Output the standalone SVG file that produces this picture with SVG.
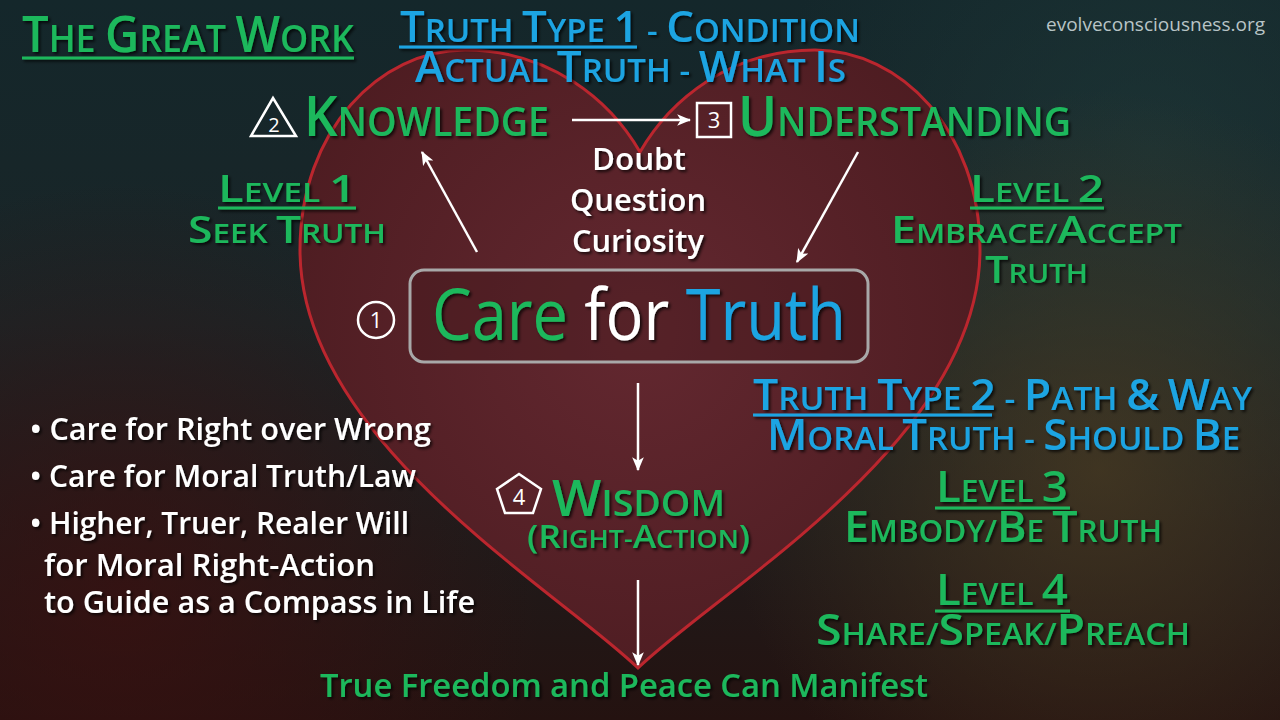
<svg xmlns="http://www.w3.org/2000/svg" width="1280" height="720" viewBox="0 0 1280 720">
<defs>
<linearGradient id="bg" x1="0" y1="0" x2="0" y2="1">
<stop offset="0" stop-color="#14272b"/>
<stop offset="0.45" stop-color="#1a2527"/>
<stop offset="1" stop-color="#241210"/>
</linearGradient>
<radialGradient id="glowR" cx="1100" cy="470" r="380" gradientUnits="userSpaceOnUse">
<stop offset="0" stop-color="#4a3b22" stop-opacity="0.75"/>
<stop offset="1" stop-color="#4a3b22" stop-opacity="0"/>
</radialGradient>
<radialGradient id="glowL" cx="120" cy="600" r="420" gradientUnits="userSpaceOnUse">
<stop offset="0" stop-color="#3c1010" stop-opacity="0.7"/>
<stop offset="1" stop-color="#3c1010" stop-opacity="0"/>
</radialGradient>
<radialGradient id="glowT" cx="1150" cy="150" r="380" gradientUnits="userSpaceOnUse">
<stop offset="0" stop-color="#1f3a3a" stop-opacity="0.6"/>
<stop offset="1" stop-color="#1f3a3a" stop-opacity="0"/>
</radialGradient>
<radialGradient id="heartFill" cx="640" cy="330" r="380" gradientUnits="userSpaceOnUse">
<stop offset="0" stop-color="#632830"/>
<stop offset="1" stop-color="#4d1c21"/>
</radialGradient>
<filter id="sh" x="-10%" y="-20%" width="120%" height="150%">
<feDropShadow dx="2" dy="2" stdDeviation="1.5" flood-color="#000" flood-opacity="0.75"/>
</filter>
<marker id="ah" viewBox="0 0 12 10" refX="11" refY="5" markerWidth="14" markerHeight="12" markerUnits="userSpaceOnUse" orient="auto">
<path d="M0,0 L12,5 L0,10 L3,5 Z" fill="#ffffff"/>
</marker>
<style>
text{font-family:"Open Sans","Noto Sans","Liberation Sans",sans-serif;font-weight:600}
.g{fill:#1fb85c}
.b{fill:#1ea4e2}
.w{fill:#ffffff}
.sh{filter:url(#sh)}
.ul-g{stroke:#1fb85c;stroke-width:3}
.ul-b{stroke:#1ea4e2;stroke-width:3}
.conn{stroke:#ffffff;stroke-width:2.5;fill:none;marker-end:url(#ah)}
.icon{fill:none;stroke:#ffffff;stroke-width:2.5}
.num{font-weight:400;fill:#ffffff;text-anchor:middle}
</style>
</defs>

<rect width="1280" height="720" fill="url(#bg)"/>
<rect width="1280" height="720" fill="url(#glowT)"/>
<rect width="1280" height="720" fill="url(#glowR)"/>
<rect width="1280" height="720" fill="url(#glowL)"/>

<g id="heart">
<path d="M638,668 C555,588 300,440 300,250 C300,130 380,50 465,50 C550,50 610,100 640,152 C670,100 730,50 815,50 C900,50 980,130 980,250 C980,440 721,588 638,668 Z" fill="url(#heartFill)" stroke="#bb262e" stroke-width="3"/>
</g>

<g id="title" class="sh">
<text x="22" y="52" class="g" font-size="38" textLength="332" lengthAdjust="spacingAndGlyphs"><tspan font-size="50">T</tspan>HE <tspan font-size="50">G</tspan>REAT <tspan font-size="50">W</tspan>ORK</text>
<line x1="22" y1="58" x2="354" y2="58" class="ul-g"/>
</g>

<g id="watermark">
<text x="1046" y="31" font-size="19" fill="#b8c4c6" style="font-weight:400" textLength="219" lengthAdjust="spacingAndGlyphs">evolveconsciousness.org</text>
</g>

<g id="truth-type-1" class="sh">
<text x="400" y="42" class="b" font-size="33" textLength="460" lengthAdjust="spacingAndGlyphs"><tspan font-size="44">T</tspan>RUTH <tspan font-size="44">T</tspan>YPE <tspan font-size="44">1</tspan> - <tspan font-size="44">C</tspan>ONDITION</text>
<line x1="399" y1="47" x2="637" y2="47" class="ul-b"/>
<text x="415" y="82" class="b" font-size="33" textLength="431" lengthAdjust="spacingAndGlyphs"><tspan font-size="44">A</tspan>CTUAL <tspan font-size="44">T</tspan>RUTH - <tspan font-size="44">W</tspan>HAT <tspan font-size="44">I</tspan>S</text>
</g>

<g id="knowledge">
<polygon points="273,98 296,136 251,136" class="icon"/>
<text x="274" y="132" class="num" font-size="20">2</text>
<text x="304" y="136" class="g sh" font-size="40" textLength="245" lengthAdjust="spacingAndGlyphs"><tspan font-size="56">K</tspan>NOWLEDGE</text>
</g>

<g id="understanding">
<rect x="697" y="103" width="34" height="34" class="icon"/>
<text x="714" y="128" class="num" font-size="22">3</text>
<text x="738" y="136" class="g sh" font-size="40" textLength="333" lengthAdjust="spacingAndGlyphs"><tspan font-size="56">U</tspan>NDERSTANDING</text>
</g>

<g id="doubt" class="sh">
<text x="592" y="170" class="w" font-size="30" textLength="94" lengthAdjust="spacingAndGlyphs">Doubt</text>
<text x="570" y="211" class="w" font-size="30" textLength="136" lengthAdjust="spacingAndGlyphs">Question</text>
<text x="572" y="252" class="w" font-size="30" textLength="132" lengthAdjust="spacingAndGlyphs">Curiosity</text>
</g>

<g id="level-1" class="sh">
<text x="218" y="202" class="g" font-size="27" textLength="138" lengthAdjust="spacingAndGlyphs"><tspan font-size="38">L</tspan>EVEL <tspan font-size="38">1</tspan></text>
<line x1="218" y1="208" x2="356" y2="208" class="ul-g"/>
<text x="188" y="243" class="g" font-size="27" textLength="198" lengthAdjust="spacingAndGlyphs"><tspan font-size="38">S</tspan>EEK <tspan font-size="38">T</tspan>RUTH</text>
</g>

<g id="level-2" class="sh">
<text x="970" y="202" class="g" font-size="27" textLength="134" lengthAdjust="spacingAndGlyphs"><tspan font-size="38">L</tspan>EVEL <tspan font-size="38">2</tspan></text>
<line x1="970" y1="208" x2="1104" y2="208" class="ul-g"/>
<text x="891" y="243" class="g" font-size="27" textLength="291" lengthAdjust="spacingAndGlyphs"><tspan font-size="38">E</tspan>MBRACE/<tspan font-size="38">A</tspan>CCEPT</text>
<text x="985" y="283" class="g" font-size="27" textLength="103" lengthAdjust="spacingAndGlyphs"><tspan font-size="38">T</tspan>RUTH</text>
</g>

<g id="care-for-truth">
<circle cx="376" cy="320" r="18" class="icon"/>
<text x="376" y="328" class="num" font-size="22">1</text>
<rect x="410" y="270" width="458" height="92" rx="14" fill="#3f161b" fill-opacity="0.35" stroke="#a8a8a8" stroke-width="3"/>
<text x="432" y="340" font-size="72" class="sh" textLength="414" lengthAdjust="spacingAndGlyphs" style="font-weight:400"><tspan class="g">Care</tspan><tspan class="w"> for </tspan><tspan class="b">Truth</tspan></text>
</g>

<g id="wisdom">
<polygon points="519,474 541,489 533,513 505,513 497,489" class="icon"/>
<text x="519" y="505" class="num" font-size="22">4</text>
<text x="552" y="516" class="g sh" font-size="36" textLength="173" lengthAdjust="spacingAndGlyphs"><tspan font-size="50">W</tspan>ISDOM</text>
<text x="527" y="548" class="g sh" font-size="25" textLength="223" lengthAdjust="spacingAndGlyphs"><tspan font-size="33">(R</tspan>IGHT-<tspan font-size="33">A</tspan>CTION<tspan font-size="33">)</tspan></text>
</g>

<g id="truth-type-2" class="sh">
<text x="753" y="410" class="b" font-size="33" textLength="499" lengthAdjust="spacingAndGlyphs"><tspan font-size="44">T</tspan>RUTH <tspan font-size="44">T</tspan>YPE <tspan font-size="44">2</tspan> - <tspan font-size="44">P</tspan>ATH <tspan font-size="44">&amp;</tspan> <tspan font-size="44">W</tspan>AY</text>
<line x1="753" y1="415" x2="992" y2="415" class="ul-b"/>
<text x="767" y="450" class="b" font-size="33" textLength="473" lengthAdjust="spacingAndGlyphs"><tspan font-size="44">M</tspan>ORAL <tspan font-size="44">T</tspan>RUTH - <tspan font-size="44">S</tspan>HOULD <tspan font-size="44">B</tspan>E</text>
</g>

<g id="level-3" class="sh">
<text x="936" y="502" class="g" font-size="30" textLength="132" lengthAdjust="spacingAndGlyphs"><tspan font-size="43">L</tspan>EVEL <tspan font-size="43">3</tspan></text>
<line x1="935" y1="508" x2="1070" y2="508" class="ul-g"/>
<text x="844" y="542" class="g" font-size="30" textLength="318" lengthAdjust="spacingAndGlyphs"><tspan font-size="43">E</tspan>MBODY/<tspan font-size="43">B</tspan>E <tspan font-size="43">T</tspan>RUTH</text>
</g>

<g id="level-4" class="sh">
<text x="936" y="605" class="g" font-size="30" textLength="132" lengthAdjust="spacingAndGlyphs"><tspan font-size="43">L</tspan>EVEL <tspan font-size="43">4</tspan></text>
<line x1="935" y1="611" x2="1070" y2="611" class="ul-g"/>
<text x="816" y="645" class="g" font-size="30" textLength="374" lengthAdjust="spacingAndGlyphs"><tspan font-size="43">S</tspan>HARE/<tspan font-size="43">S</tspan>PEAK/<tspan font-size="43">P</tspan>REACH</text>
</g>

<g id="bullets" class="sh">
<text x="30" y="440" class="w" font-size="31" textLength="401" lengthAdjust="spacingAndGlyphs">• Care for Right over Wrong</text>
<text x="30" y="487" class="w" font-size="31" textLength="386" lengthAdjust="spacingAndGlyphs">• Care for Moral Truth/Law</text>
<text x="30" y="534" class="w" font-size="31" textLength="379" lengthAdjust="spacingAndGlyphs">• Higher, Truer, Realer Will</text>
<text x="44" y="576" class="w" font-size="31" textLength="331" lengthAdjust="spacingAndGlyphs">for Moral Right-Action</text>
<text x="44" y="613" class="w" font-size="31" textLength="431" lengthAdjust="spacingAndGlyphs">to Guide as a Compass in Life</text>
</g>

<g id="freedom" class="sh">
<text x="320" y="697" class="g" font-size="33" textLength="608" lengthAdjust="spacingAndGlyphs">True Freedom and Peace Can Manifest</text>
</g>

<g id="connectors">
<line x1="572" y1="120" x2="690" y2="120" class="conn"/>
<line x1="477" y1="252" x2="422" y2="152" class="conn"/>
<line x1="858" y1="152" x2="797" y2="262" class="conn"/>
<line x1="638" y1="383" x2="638" y2="470" class="conn"/>
<line x1="638" y1="580" x2="638" y2="665" class="conn"/>
</g>
</svg>
